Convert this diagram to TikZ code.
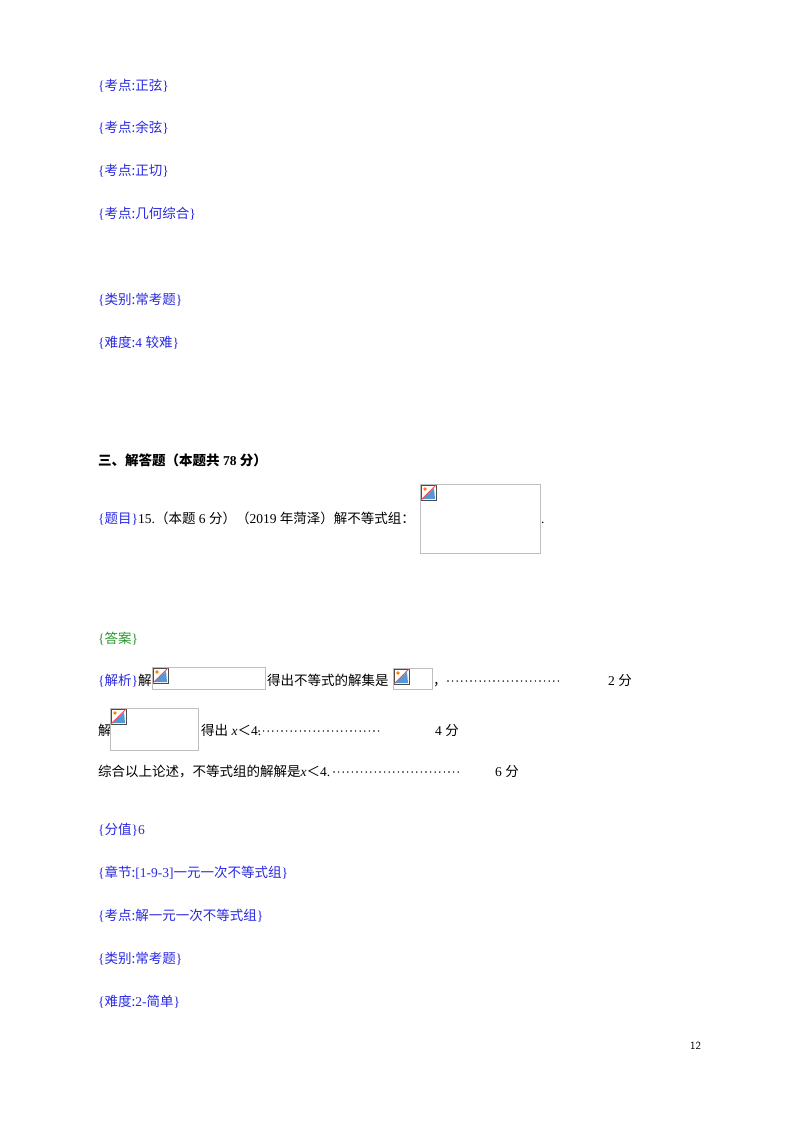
\documentclass[tikz,border=0pt]{standalone}
\usepackage{fontspec}
\setmainfont{Liberation Serif}
\newfontfamily\cjk{Noto Sans CJK SC}
\definecolor{tblue}{RGB}{40,40,225}
\definecolor{tgreen}{RGB}{40,150,40}
\definecolor{boxgray}{RGB}{190,190,190}
\begin{document}
\begin{tikzpicture}[x=1pt,y=-1pt,
  t/.style={anchor=base west,inner sep=0pt,font=\fontsize{13.5}{15}\selectfont},
  b/.style={t,text=tblue},
  g/.style={t,text=tgreen},
  imgbox/.style={draw=boxgray,line width=0.8pt},
  dots/.style={line width=1.6pt,line cap=round,dash pattern=on 0pt off 4.6pt},
  icon/.pic={
    \fill[white] (0,0) rectangle (15,15);
    \fill[cyan!60!blue!70] (1,14) -- (13,3) -- (14,14) -- cycle;
    \fill[orange] (4,4) circle (1.8);
    \draw[black!70,line width=0.8pt] (0,0) rectangle (15,15);
    \draw[red!70,line width=0.8pt] (0,15) -- (15,0);
  }]
\useasboundingbox (0,0) rectangle (800,1133);
\node[b] (a1) at (98,90) {\{{\cjk 考点:正弦}\}};
\node[b] (a2) at (98,132) {\{{\cjk 考点:余弦}\}};
\node[b] (a3) at (98,175) {\{{\cjk 考点:正切}\}};
\node[b] (a4) at (98,218) {\{{\cjk 考点:几何综合}\}};
\node[b] (a5) at (98,304) {\{{\cjk 类别:常考题}\}};
\node[b] (a6) at (98,347) {\{{\cjk 难度:}4 {\cjk 较难}\}};
\node[t] (h) at (98,465) {{\cjk\bfseries 三、解答题（本题共} \textbf{78} {\cjk\bfseries 分）}};
\node[t] (q) at (98,523) {\textcolor{tblue}{\{{\cjk 题目}\}}15.{\cjk （本题} 6 {\cjk 分）（}2019 {\cjk 年菏泽）解不等式组：}};
\draw[imgbox] (420,484) rectangle (540,553);
\pic at (421,485) {icon};
\node[t] at (541,523) {.};
\node[g] (ans) at (98,643) {\{{\cjk 答案}\}};
\node[t] (r1) at (98,685) {\textcolor{tblue}{\{{\cjk 解析}\}}{\cjk 解}};
\draw[imgbox] (152,667) rectangle (265,689);
\pic at (153,668) {icon};
\node[t] at (267,685) {\cjk 得出不等式的解集是};
\draw[imgbox] (393,668) rectangle (432,689);
\pic at (394,669) {icon};
\node[t] at (433,685) {\cjk ，};
\draw[dots] (448,681) -- (560,681);
\node[t] at (608,685) {2 {\cjk 分}};
\node[t] (r2) at (98,735) {\cjk 解};
\draw[imgbox] (110,708) rectangle (198,750);
\pic at (111,709) {icon};
\node[t] at (201,735) {{\cjk 得出} \textit{x}{\cjk ＜}4.};
\draw[dots] (259,731) -- (382,731);
\node[t] at (435,735) {4 {\cjk 分}};
\node[t] (r3) at (98,776) {{\cjk 综合以上论述，不等式组的解解是}\textit{x}{\cjk ＜}4.};
\draw[dots] (334,772) -- (462,772);
\node[t] at (495,776) {6 {\cjk 分}};
\node[b] (c1) at (98,834) {\{{\cjk 分值}\}6};
\node[b] (c2) at (98,877) {\{{\cjk 章节:}[1-9-3]{\cjk 一元一次不等式组}\}};
\node[b] (c3) at (98,920) {\{{\cjk 考点:解一元一次不等式组}\}};
\node[b] (c4) at (98,963) {\{{\cjk 类别:常考题}\}};
\node[b] (c5) at (98,1006) {\{{\cjk 难度:}2-{\cjk 简单}\}};
\node[anchor=base west,inner sep=0pt,font=\fontsize{11}{12}\selectfont\sffamily] (pg) at (690,1049) {12};
\end{tikzpicture}
\end{document}
